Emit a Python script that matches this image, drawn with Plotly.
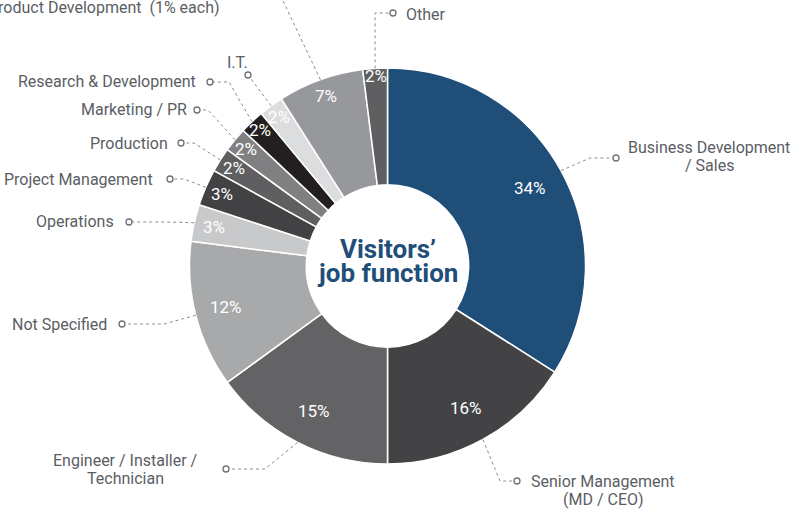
import math
import plotly.graph_objects as go

# ---- data ----
categories = [
    "Business Development<br>/ Sales",
    "Senior Management<br>(MD / CEO)",
    "Engineer / Installer /<br>Technician",
    "Not Specified",
    "Operations",
    "Project Management",
    "Production",
    "Marketing / PR",
    "Research & Development",
    "I.T.",
    "Product Development \u00a0(1% each)",
    "Other",
]
values = [34, 16, 15, 12, 3, 3, 2, 2, 2, 2, 7, 2]
pct_labels = [f"{v}%" for v in values]
title_lines = ["Visitors\u2019", "job function"]

# ---- styles / layout ----
W, H = 795, 512
colors = ["#1f4e79", "#434345", "#636365", "#a8a9ab", "#c8c9cb", "#424244",
          "#5f5f61", "#808083", "#231f20", "#dcdddf", "#97989b", "#5f5f61"]
CX, CY, R = 387.5, 266.0, 198.0
HOLE = 0.41
pct_r = [0.82, 0.82, 0.82, 0.84, 0.90, 0.91, 0.92, 0.93, 0.94, 0.93, 0.91, 0.96]

# label text anchor: (x, y, xanchor), line height 18
label_pos = [
    (709, 147, "center"), (603, 481, "center"), (125, 460, "center"),
    (109, 324, "right"), (116, 221, "right"), (155, 179, "right"),
    (170, 143, "right"), (189, 109, "right"), (198, 81, "right"),
    (237, 62, "center"), (222, 7, "right"), (404, 14, "left"),
]
# leader: circle position and elbow (None = straight)
circ_pos = [(616, 158), (517, 481), (226, 469), (122, 324), (129, 222), (170, 179),
            (181, 143), (197, 110), (210, 82), (248, 75), (276, -14), (393, 13)]
elbow_pos = [(590, 158), (500, 481), (265, 469), (164, 324), (168, 222), (184, 179),
             (194, 143), (208, 110), (229, 82), None, None, "vert"]

LABEL_COLOR = "#5a5e64"
LINE_COLOR = "#8c8c8c"
FONT = "Roboto"


def px(x):
    return x / W


def py(y):
    return 1 - y / H


fig = go.Figure(go.Pie(
    values=values,
    labels=categories,
    sort=False,
    direction="clockwise",
    rotation=0,
    hole=HOLE,
    marker=dict(colors=colors, line=dict(color="white", width=1.5)),
    textinfo="none",
    hoverinfo="label+percent",
    showlegend=False,
    domain=dict(x=[px(CX - R), px(CX + R)], y=[py(CY + R), py(CY - R)]),
))

annotations = []
shapes = []
total = sum(values)
cum = 0
for i, v in enumerate(values):
    mid = (cum + v / 2) / total
    cum += v
    th = 2 * math.pi * mid
    # percent label
    rr = R * pct_r[i]
    annotations.append(dict(
        x=px(CX + rr * math.sin(th)), y=py(CY - rr * math.cos(th)),
        xref="paper", yref="paper", text=pct_labels[i], showarrow=False,
        font=dict(family=FONT, size=17, color="white"),
        xanchor="center", yanchor="middle"))
    # leader line
    sx, sy = CX + R * math.sin(th), CY - R * math.cos(th)
    cx, cy = circ_pos[i]
    pts = [(sx, sy)]
    e = elbow_pos[i]
    if e == "vert":
        pts.append((sx, cy))
    elif e is not None:
        pts.append(e)
    pts.append((cx, cy))
    path = "M " + " L ".join(f"{px(a)},{py(b)}" for a, b in pts)
    shapes.append(dict(type="path", xref="paper", yref="paper", path=path,
                       line=dict(color=LINE_COLOR, width=1, dash="dot")))
    shapes.append(dict(type="circle", xref="paper", yref="paper",
                       x0=px(cx - 3), x1=px(cx + 3), y0=py(cy + 3), y1=py(cy - 3),
                       fillcolor="white", line=dict(color="#6d7177", width=1.3)))
    # category label text (one annotation per line)
    lx, ly, anc = label_pos[i]
    for k, line in enumerate(categories[i].split("<br>")):
        annotations.append(dict(
            x=px(lx), y=py(ly + 18 * k), xref="paper", yref="paper",
            text=line, showarrow=False, xanchor=anc, yanchor="middle",
            font=dict(family=FONT, size=16, color=LABEL_COLOR)))

for k, t in enumerate(title_lines):
    annotations.append(dict(
        x=px(CX), y=py(249 + 24 * k), xref="paper", yref="paper", text=f"<b>{t}</b>",
        showarrow=False, xanchor="center", yanchor="middle",
        font=dict(family=FONT, size=26, color="#1f4e79")))

fig.update_layout(
    width=W, height=H,
    margin=dict(l=0, r=0, t=0, b=0),
    paper_bgcolor="white", plot_bgcolor="white",
    annotations=annotations, shapes=shapes,
)

fig.write_html("out.html", config={"displayModeBar": False},
               post_script="document.body.style.margin='0';document.body.style.overflow='hidden';")
